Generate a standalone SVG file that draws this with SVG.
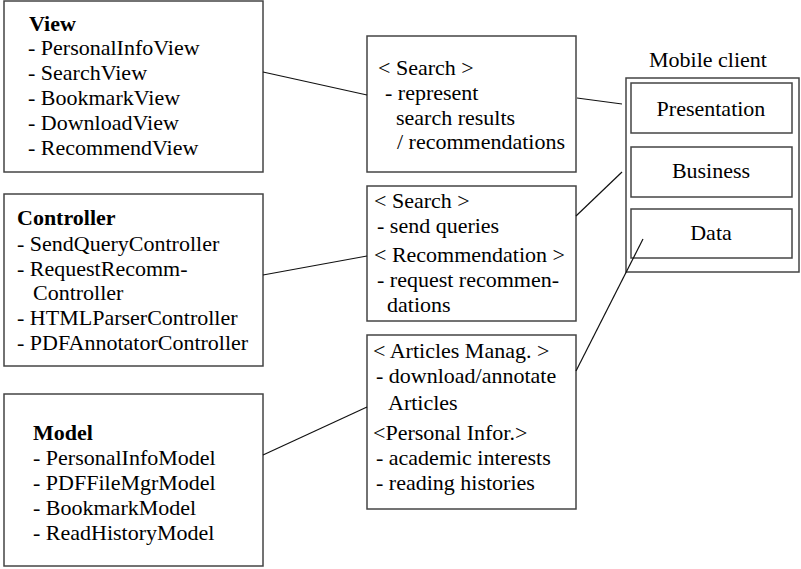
<svg xmlns="http://www.w3.org/2000/svg" width="801" height="569" viewBox="0 0 801 569">
  <style>
    .box { fill: #ffffff; stroke: #444444; stroke-width: 1.5; }
    .link { stroke: #111111; stroke-width: 1.2; fill: none; }
    text { font-family: "Liberation Serif", "Times New Roman", serif; font-size: 22px; fill: #000000; }
    .title { font-weight: bold; }
    .mid { text-anchor: middle; }
  </style>
  <rect width="801" height="569" fill="#ffffff"/>

  <!-- MVC packages -->
  <g id="view">
    <rect class="box" x="4" y="1" width="259" height="171"/>
    <text class="title" x="29" y="31">View</text>
    <text x="28" y="55">- PersonalInfoView</text>
    <text x="28" y="80">- SearchView</text>
    <text x="28" y="105">- BookmarkView</text>
    <text x="28" y="130">- DownloadView</text>
    <text x="28" y="155">- RecommendView</text>
  </g>

  <g id="controller">
    <rect class="box" x="4" y="194" width="259" height="172"/>
    <text class="title" x="17" y="225">Controller</text>
    <text x="17" y="251">- SendQueryController</text>
    <text x="17" y="276">- RequestRecomm-</text>
    <text x="33" y="300">Controller</text>
    <text x="17" y="325">- HTMLParserController</text>
    <text x="17" y="350">- PDFAnnotatorController</text>
  </g>

  <g id="model">
    <rect class="box" x="4" y="394" width="259" height="172"/>
    <text class="title" x="33" y="440">Model</text>
    <text x="33" y="465">- PersonalInfoModel</text>
    <text x="33" y="490">- PDFFileMgrModel</text>
    <text x="33" y="515">- BookmarkModel</text>
    <text x="33" y="540">- ReadHistoryModel</text>
  </g>

  <!-- functional modules -->
  <g id="search-presentation">
    <rect class="box" x="367" y="36" width="209" height="136"/>
    <text x="378" y="75">&lt; Search &gt;</text>
    <text x="385" y="100">- represent</text>
    <text x="396" y="125">search results</text>
    <text x="397" y="149">/ recommendations</text>
  </g>

  <g id="search-business">
    <rect class="box" x="367" y="186" width="209" height="135"/>
    <text x="374" y="208">&lt; Search &gt;</text>
    <text x="377" y="233">- send queries</text>
    <text x="374" y="262">&lt; Recommendation &gt;</text>
    <text x="377" y="287">- request recommen-</text>
    <text x="387" y="312">dations</text>
  </g>

  <g id="articles-data">
    <rect class="box" x="367" y="335" width="209" height="174"/>
    <text x="373" y="358">&lt; Articles Manag. &gt;</text>
    <text x="376" y="383">- download/annotate</text>
    <text x="388" y="410">Articles</text>
    <text x="373" y="440">&lt;Personal Infor.&gt;</text>
    <text x="376" y="465">- academic interests</text>
    <text x="376" y="490">- reading histories</text>
  </g>

  <!-- mobile client layers -->
  <g id="mobile-client">
    <text class="mid" x="708" y="67">Mobile client</text>
    <rect class="box" x="626" y="78" width="173" height="194"/>
  </g>
  <g id="presentation">
    <rect class="box" x="631" y="83" width="161" height="50"/>
    <text class="mid" x="711" y="116">Presentation</text>
  </g>
  <g id="business">
    <rect class="box" x="631" y="147" width="161" height="50"/>
    <text class="mid" x="711" y="178">Business</text>
  </g>
  <g id="data">
    <rect class="box" x="631" y="209" width="161" height="49"/>
    <text class="mid" x="711" y="240">Data</text>
  </g>

  <!-- connectors, drawn over the boxes -->
  <g id="connectors">
    <line class="link" x1="263" y1="72" x2="367" y2="95"/>
    <line class="link" x1="577" y1="98" x2="622" y2="104"/>
    <line class="link" x1="263" y1="275" x2="367" y2="256"/>
    <line class="link" x1="576" y1="216" x2="622" y2="172"/>
    <line class="link" x1="263" y1="455" x2="367" y2="407"/>
    <line class="link" x1="576" y1="371" x2="643" y2="239"/>
  </g>
</svg>
